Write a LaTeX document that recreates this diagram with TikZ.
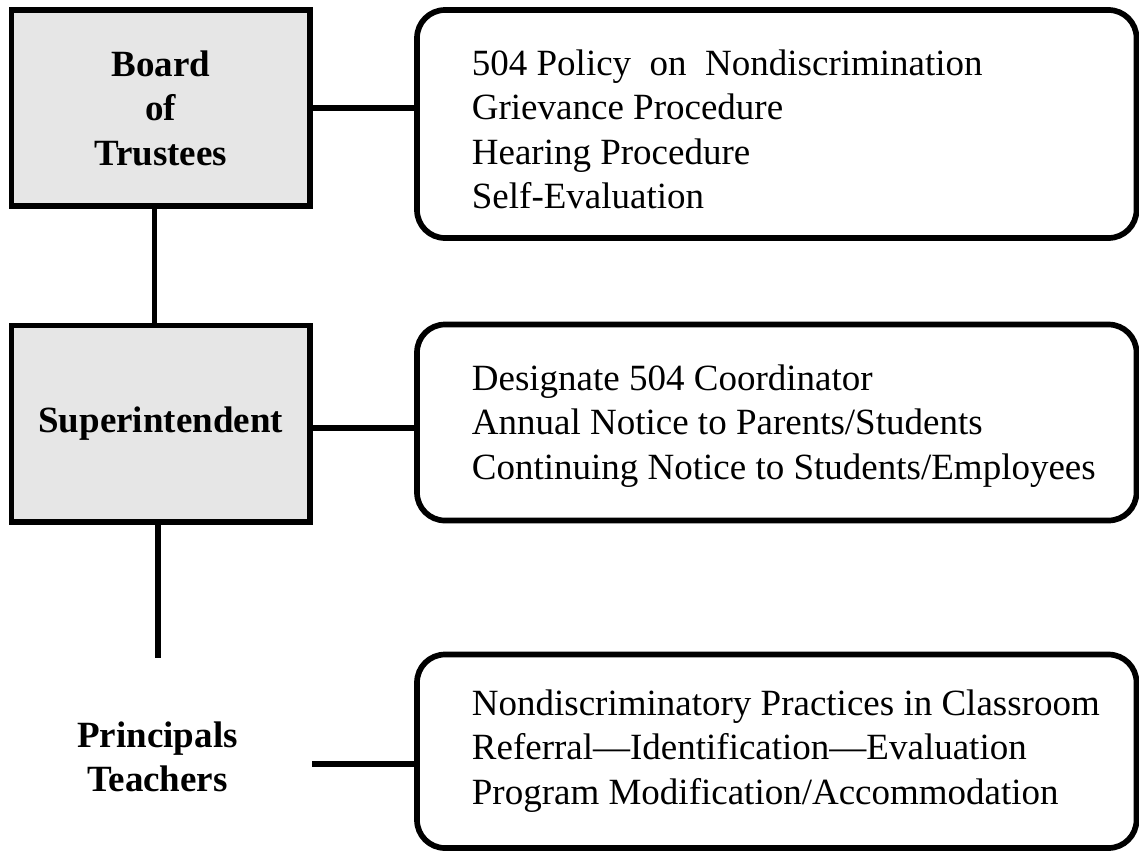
\documentclass[tikz,border=0pt]{standalone}
\usepackage{fontspec}
\setmainfont{Liberation Serif}
\definecolor{boxgray}{HTML}{E6E6E6}
\begin{document}
\begin{tikzpicture}[x=1pt,y=-1pt,
  lbox/.style={draw=black, line width=5.5pt, fill=boxgray, minimum width=298.5pt,
    inner sep=0pt, outer sep=0pt, font=\fontsize{37}{44.4}\selectfont\bfseries, align=center},
  rbox/.style={draw=black, line width=5.7pt, rounded corners=28pt, minimum width=719.5pt,
    inner sep=0pt, outer sep=0pt},
  itemtext/.style={font=\fontsize{37}{44.4}\selectfont, align=left, anchor=north west, inner sep=0pt},
  roletext/.style={font=\fontsize{37}{44.4}\selectfont\bfseries, align=center, anchor=north, inner sep=0pt},
  conn/.style={draw=black, line width=5.3pt}]
\useasboundingbox (0,0) rectangle (1139,852);

% left column
\node[lbox, minimum height=196pt] (board) at (160.75,108) {Board\\of\\Trustees};
\node[lbox, minimum height=196.5pt] (super) at (160.75,423.75) {Superintendent};
\node[roletext] (princ) at (157.5,721.5) {Principals\\Teachers};

% right column
\node[rbox, minimum height=228pt] (box1) at (776.75,124) {};
\node[rbox, minimum height=196pt] (box2) at (776.75,422.5) {};
\node[rbox, minimum height=193.5pt] (box3) at (776.75,751.25) {};

\node[itemtext] (t1) at (471.7,49.7) {504 Policy\ \ on\ \ Nondiscrimination\\Grievance Procedure\\Hearing Procedure\\Self-Evaluation};
\node[itemtext] (t2) at (471.7,364.7) {Designate 504 Coordinator\\Annual Notice to Parents/Students\\Continuing Notice to Students/Employees};
\node[itemtext] (t3) at (471.7,689.7) {Nondiscriminatory Practices in Classroom\\Referral—Identification—Evaluation\\Program Modification/Accommodation};

% connectors
\coordinate (vend) at (158,658);
\coordinate (pstart) at (312,764);
\draw[conn] ([xshift=-6.25pt]board.south) -- ([xshift=-6.25pt]super.north);
\draw[conn] (super.south -| vend) -- (vend);
\draw[conn] (board.east) -- (board.east -| box1.west);
\draw[conn] ([yshift=-4.25pt]super.east) -- ([yshift=-4.25pt]super.east -| box2.west);
\draw[conn] (pstart) -- (pstart -| box3.west);
\end{tikzpicture}
\end{document}
